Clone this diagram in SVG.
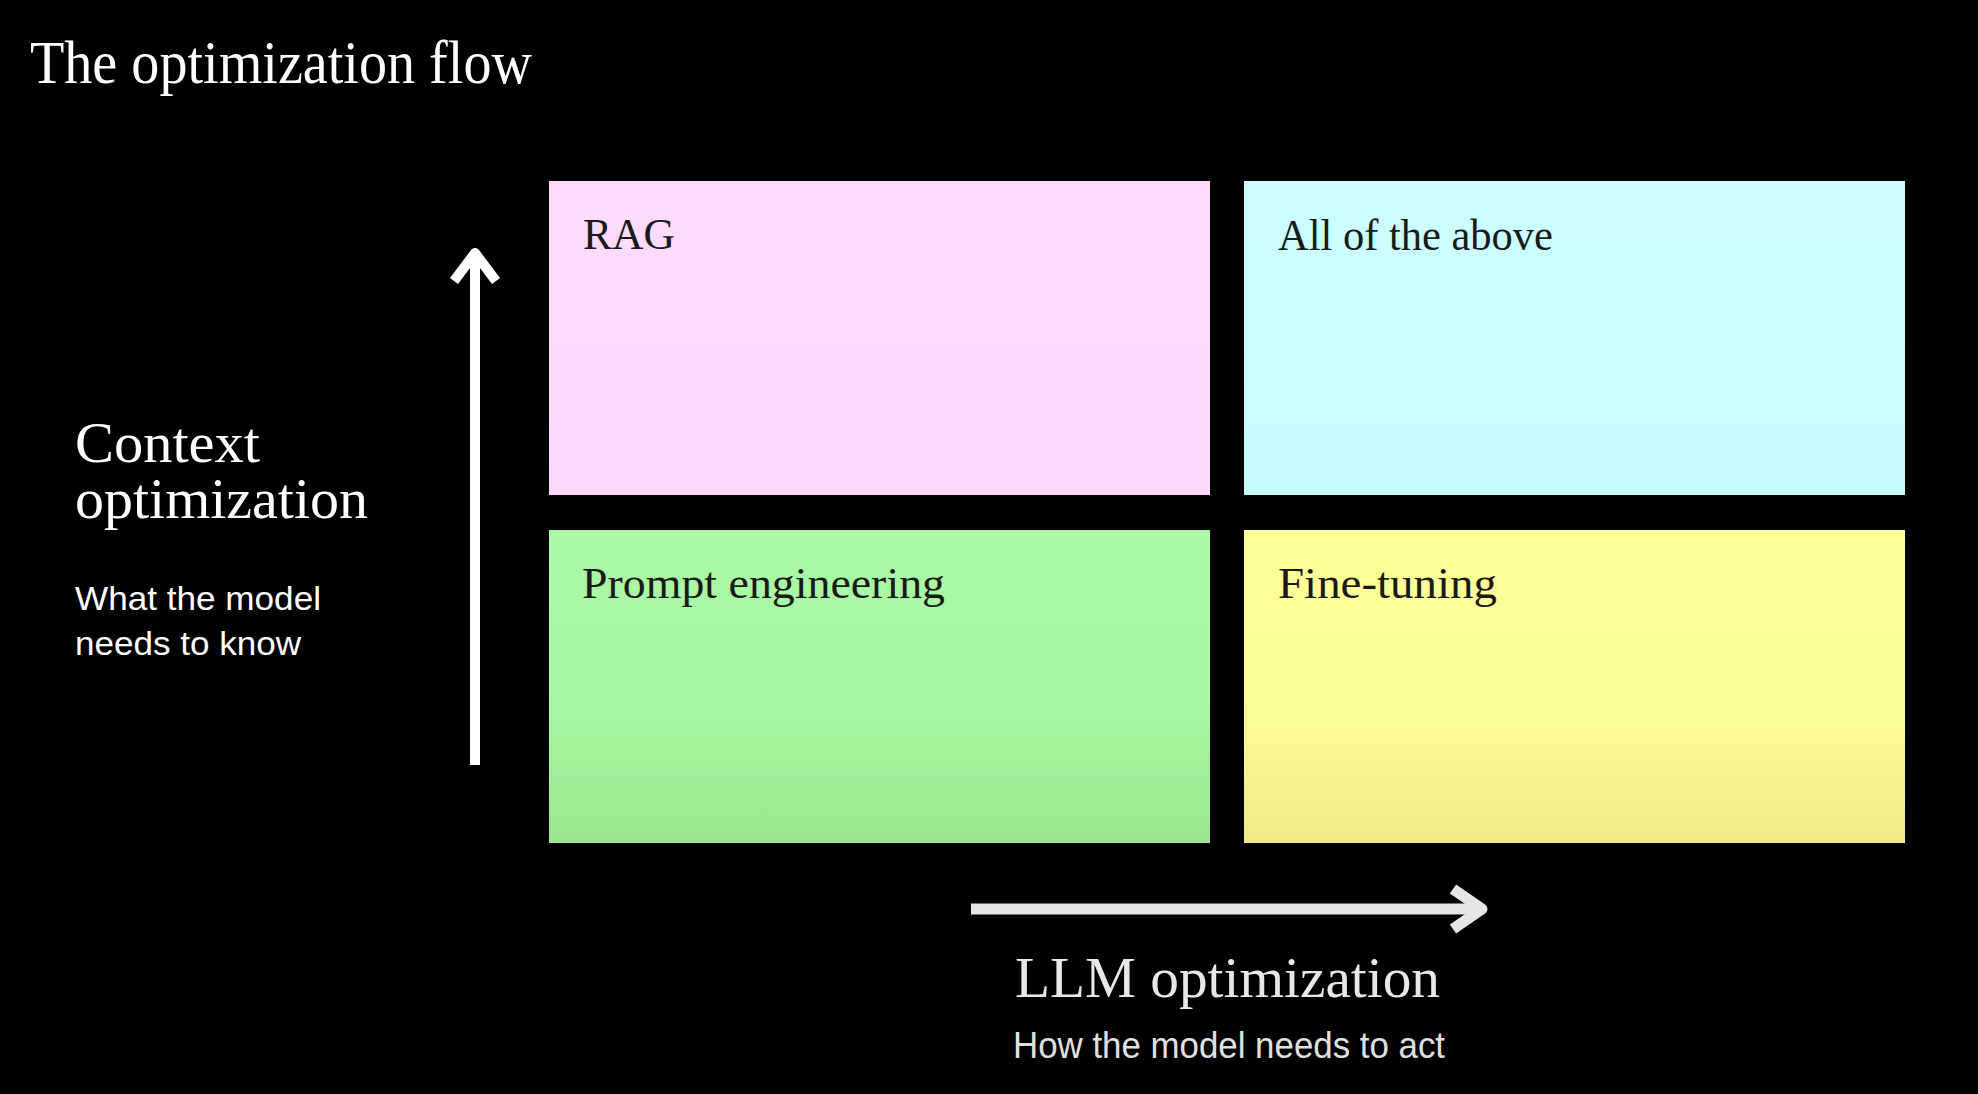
<svg xmlns="http://www.w3.org/2000/svg" width="1978" height="1094" viewBox="0 0 1978 1094">
<style>
.serif{font-family:"Liberation Serif","Times New Roman",serif;}
.sans{font-family:"Liberation Sans",Arial,sans-serif;}
.lbl{font-size:44px;fill:#1a1a1a;}
.ax{font-size:56px;}
.sub{font-size:34px;}
</style>
<defs>
<linearGradient id="gPink" x1="0" y1="0" x2="0" y2="1"><stop offset="0" stop-color="#ffdcff"/><stop offset="1" stop-color="#fcd8fc"/></linearGradient>
<linearGradient id="gCyan" x1="0" y1="0" x2="0" y2="1"><stop offset="0" stop-color="#ccffff"/><stop offset="1" stop-color="#c8fbfb"/></linearGradient>
<linearGradient id="gGreen" x1="0" y1="0" x2="0" y2="1"><stop offset="0" stop-color="#aaf9a4"/><stop offset="0.6" stop-color="#a8f6a1"/><stop offset="1" stop-color="#9ce490"/></linearGradient>
<linearGradient id="gYellow" x1="0" y1="0" x2="0" y2="1"><stop offset="0" stop-color="#ffff99"/><stop offset="0.6" stop-color="#fcfc96"/><stop offset="1" stop-color="#eeea88"/></linearGradient>
<marker id="headW" markerUnits="userSpaceOnUse" markerWidth="60" markerHeight="60" viewBox="-40 -30 50 60" refX="0" refY="0" orient="auto" overflow="visible">
<path d="M-28,-21 L0,0 L-28,21" fill="none" stroke="#ffffff" stroke-width="10" stroke-linejoin="round"/>
</marker>
<marker id="headG" markerUnits="userSpaceOnUse" markerWidth="60" markerHeight="60" viewBox="-40 -30 50 60" refX="0" refY="0" orient="auto" overflow="visible">
<path d="M-29,-20 L0,0 L-29,20" fill="none" stroke="#e6e6e6" stroke-width="11" stroke-linejoin="round"/>
</marker>
</defs>
<rect x="0" y="0" width="1978" height="1094" fill="#000000"/>
<text class="serif" x="30" y="83" font-size="62" fill="#ffffff" textLength="502" lengthAdjust="spacingAndGlyphs">The optimization flow</text>

<g id="node-rag">
<rect x="549" y="181" width="661" height="314" fill="url(#gPink)"/>
<text class="serif lbl" x="583" y="249" textLength="92" lengthAdjust="spacingAndGlyphs">RAG</text>
</g>
<g id="node-all">
<rect x="1244" y="181" width="661" height="314" fill="url(#gCyan)"/>
<text class="serif lbl" x="1278" y="250" textLength="275" lengthAdjust="spacingAndGlyphs">All of the above</text>
</g>
<g id="node-prompt">
<rect x="549" y="530" width="661" height="313" fill="url(#gGreen)"/>
<text class="serif lbl" x="582" y="598" textLength="363" lengthAdjust="spacingAndGlyphs">Prompt engineering</text>
</g>
<g id="node-finetune">
<rect x="1244" y="530" width="661" height="313" fill="url(#gYellow)"/>
<text class="serif lbl" x="1278" y="598" textLength="219" lengthAdjust="spacingAndGlyphs">Fine-tuning</text>
</g>

<g id="connectors">
<line x1="475" y1="765" x2="475" y2="253" stroke="#ffffff" stroke-width="10" marker-end="url(#headW)"/>
<line x1="971" y1="909" x2="1482" y2="909" stroke="#e6e6e6" stroke-width="11" marker-end="url(#headG)"/>
</g>

<g id="axis-y-label">
<text class="serif ax" x="75" y="462" fill="#ffffff" textLength="185" lengthAdjust="spacingAndGlyphs">Context</text>
<text class="serif ax" x="75" y="518" fill="#ffffff" textLength="293" lengthAdjust="spacingAndGlyphs">optimization</text>
<text class="sans sub" x="75" y="610" fill="#ffffff" textLength="246" lengthAdjust="spacingAndGlyphs">What the model</text>
<text class="sans sub" x="75" y="655" fill="#ffffff" textLength="226" lengthAdjust="spacingAndGlyphs">needs to know</text>
</g>
<g id="axis-x-label">
<text class="serif" x="1015" y="997" font-size="56" fill="#e8e8e8" textLength="425" lengthAdjust="spacingAndGlyphs">LLM optimization</text>
<text class="sans" x="1013" y="1058" font-size="36" fill="#e0e0e0" textLength="432" lengthAdjust="spacingAndGlyphs">How the model needs to act</text>
</g>
</svg>
